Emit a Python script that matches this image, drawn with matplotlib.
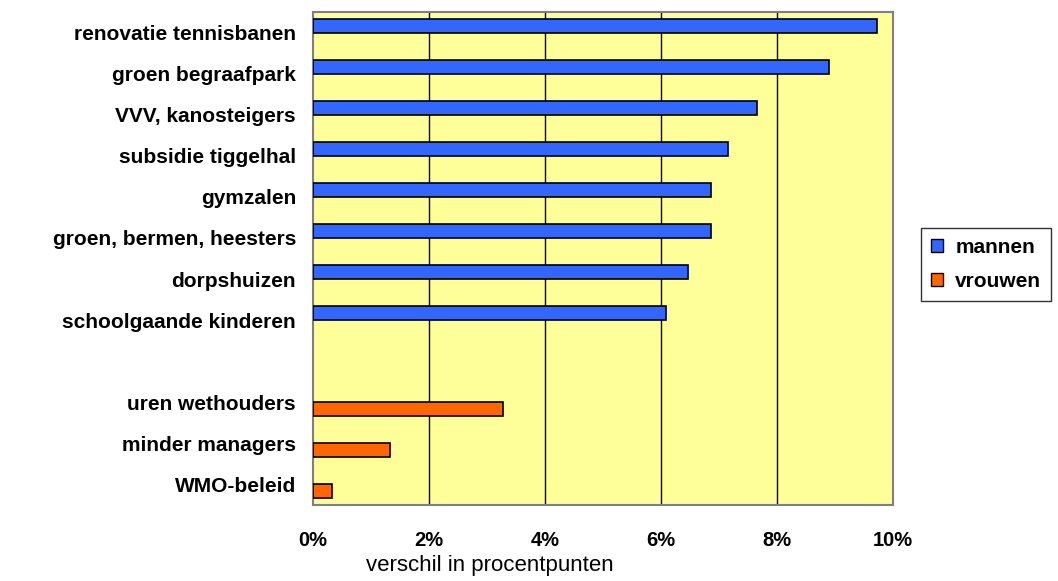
import matplotlib
matplotlib.use("Agg")
import matplotlib.pyplot as plt
from matplotlib.patches import Patch
import numpy as np

categories = ["renovatie tennisbanen", "groen begraafpark", "VVV, kanosteigers",
              "subsidie tiggelhal", "gymzalen", "groen, bermen, heesters",
              "dorpshuizen", "schoolgaande kinderen", "",
              "uren wethouders", "minder managers", "WMO-beleid"]
mannen = [9.72, 8.9, 7.66, 7.16, 6.86, 6.86, 6.46, 6.09, 0, 0, 0, 0]
vrouwen = [0, 0, 0, 0, 0, 0, 0, 0, 0, 3.27, 1.33, 0.33]
xticks = [0, 2, 4, 6, 8, 10]
xticklabels = ["0%", "2%", "4%", "6%", "8%", "10%"]

plt.rcParams['font.family'] = ['Liberation Sans', 'DejaVu Sans']

fig = plt.figure(figsize=(10.58, 5.81), dpi=100)
ax = fig.add_axes([313/1058, 1-505/581, 580/1058, 493/581])
ax.set_facecolor("#FFFF99")

y = np.arange(len(categories))
h = 1/3
m_idx = [i for i, v in enumerate(mannen) if v > 0]
v_idx = [i for i, v in enumerate(vrouwen) if v > 0]
ax.barh(y[m_idx] - h/2, [mannen[i] for i in m_idx], height=h, color="#3366FF",
        edgecolor="black", linewidth=1.2, zorder=3, label="mannen")
ax.barh(y[v_idx] + h/2, [vrouwen[i] for i in v_idx], height=h, color="#FF6600",
        edgecolor="black", linewidth=1.2, zorder=3, label="vrouwen")

ax.set_xlim(0, 10)
ax.set_ylim(len(categories) - 0.5, -0.5)
ax.set_xticks(xticks)
ax.set_xticklabels(xticklabels, fontsize=14.5, fontweight="bold")
ax.set_yticks(y)
ax.set_yticklabels(categories, fontsize=15, fontweight="bold")
ax.tick_params(axis="both", length=0)
ax.tick_params(axis="x", pad=18.5)
ax.tick_params(axis="y", pad=12.2)
for xv in xticks[1:-1]:
    ax.axvline(xv, color="black", linewidth=1, zorder=1)
for s in ax.spines.values():
    s.set_color("#808080")
    s.set_linewidth(1.5)

fig.text(490/1058, 1-565/581, "verschil in procentpunten", ha="center", va="center",
         fontsize=16)

handles = [Patch(facecolor="#3366FF", edgecolor="black", label="mannen"),
           Patch(facecolor="#FF6600", edgecolor="black", label="vrouwen")]
leg = fig.legend(handles=handles, loc="center", bbox_to_anchor=(986/1058, 1-264.5/581),
                 frameon=True, fancybox=False, edgecolor="black",
                 prop={"weight": "bold", "size": 15}, handlelength=0.58, handleheight=0.58,
                 handletextpad=0.6, borderpad=0.45, labelspacing=0.75,
                 borderaxespad=0)
leg.get_frame().set_linewidth(1)

fig.savefig("out.png", dpi=100, facecolor="white")
